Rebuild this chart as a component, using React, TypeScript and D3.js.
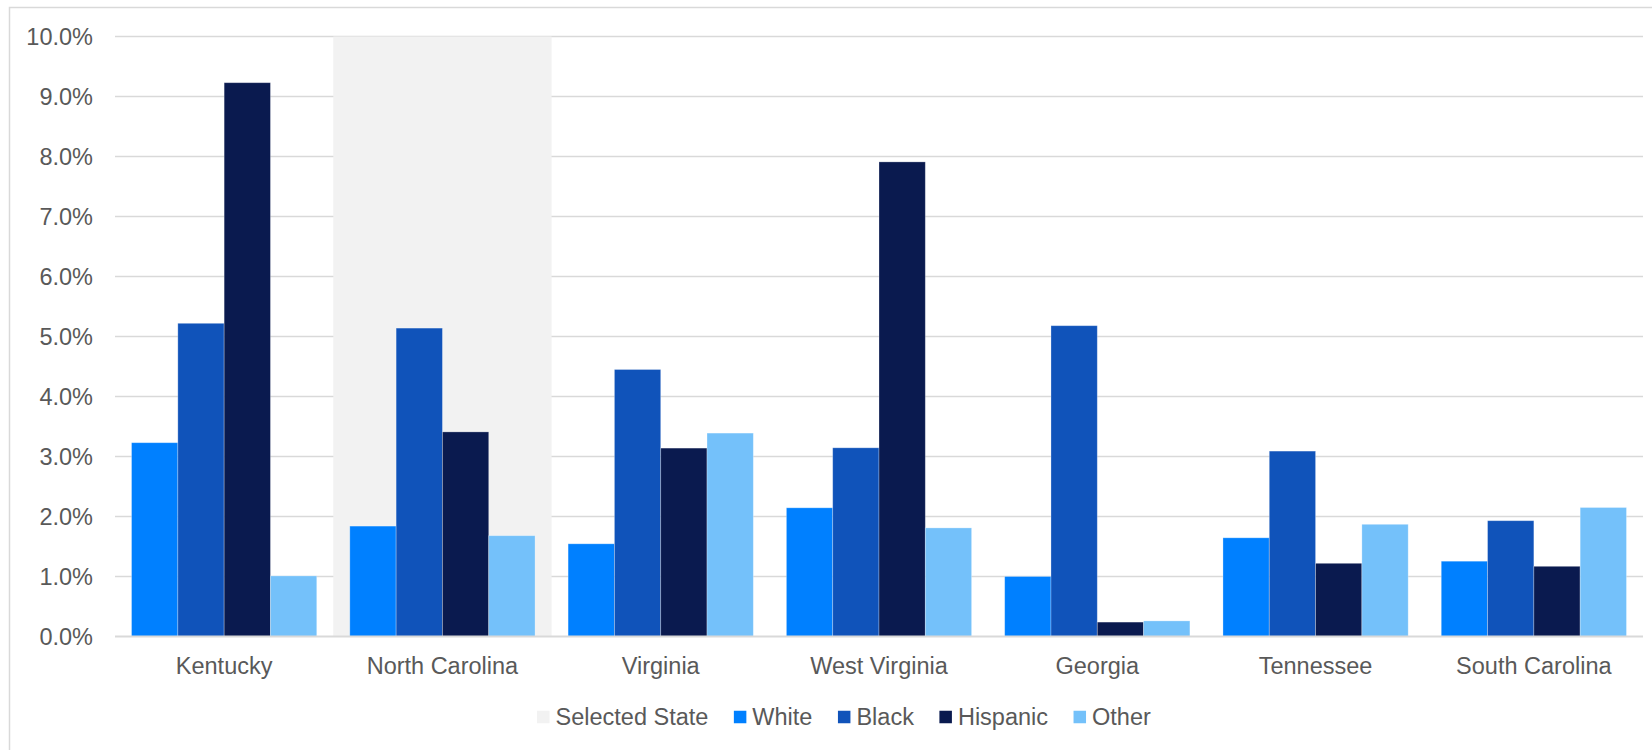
import React, { useEffect, useRef } from "react";
import * as d3 from "d3";

const states = ["Kentucky", "North Carolina", "Virginia", "West Virginia", "Georgia", "Tennessee", "South Carolina"];
const selectedState = "North Carolina";
const seriesKeys = ["White", "Black", "Hispanic", "Other"];
const white = [0.0323, 0.0184, 0.01545, 0.02145, 0.0100, 0.01645, 0.01255];
const black = [0.0522, 0.0514, 0.0445, 0.03145, 0.0518, 0.0309, 0.0193];
const hispanic = [0.0923, 0.0341, 0.0314, 0.0791, 0.0024, 0.0122, 0.0117];
const other = [0.0101, 0.0168, 0.0339, 0.0181, 0.0026, 0.0187, 0.0215];
const yTicks = [0, 0.01, 0.02, 0.03, 0.04, 0.05, 0.06, 0.07, 0.08, 0.09, 0.1];
const legendLabels = ["Selected State", "White", "Black", "Hispanic", "Other"];

const seriesValues = [white, black, hispanic, other];
const colors = ["#0080FF", "#1053BA", "#0A1A4F", "#74C1FA"];
const bandColor = "#F2F2F2";
const gridColor = "#D9D9D9";
const textColor = "#595959";
const FONT = "'Liberation Sans', Arial, sans-serif";

export default function App() {
  const ref = useRef<SVGSVGElement | null>(null);

  useEffect(() => {
    const svg = d3.select(ref.current);
    svg.selectAll("*").remove();

    const W = 1652, H = 750;
    const left = 115, right = 1643, top = 36.5, bottom = 636.5;

    // outer border
    svg.append("rect").attr("x", 9.5).attr("y", 7.5).attr("width", W + 50).attr("height", H + 50)
      .attr("fill", "#fff").attr("stroke", gridColor).attr("stroke-width", 1.5);

    const x0 = d3.scaleBand<string>().domain(states).range([left, right]).padding(0);
    const x1 = d3.scaleBand<string>().domain(seriesKeys).range([0, x0.bandwidth()]).paddingInner(0).paddingOuter(0.357);
    const y = d3.scaleLinear().domain([0, 0.1]).range([bottom, top]);

    // gridlines
    svg.append("g").selectAll("line").data(yTicks.filter(t => t > 0)).join("line")
      .attr("x1", left).attr("x2", right)
      .attr("y1", d => y(d)).attr("y2", d => y(d))
      .attr("stroke", gridColor).attr("stroke-width", 1.5);

    // selected band
    svg.append("rect")
      .attr("x", x0(selectedState)!).attr("width", x0.bandwidth())
      .attr("y", y(0.1)).attr("height", y(0) - y(0.1))
      .attr("fill", bandColor);

    // y tick labels
    svg.append("g").selectAll("text").data(yTicks).join("text")
      .attr("x", 93).attr("y", d => y(d)).attr("dy", "0.35em")
      .attr("text-anchor", "end").attr("font-family", FONT).attr("font-size", 23.5)
      .attr("fill", textColor).text(d => d3.format(".1%")(d));

    // bars
    const g = svg.append("g");
    states.forEach((s, i) => {
      const gg = g.append("g").attr("transform", `translate(${x0(s)},0)`);
      seriesKeys.forEach((k, j) => {
        const v = seriesValues[j][i];
        gg.append("rect")
          .attr("x", x1(k)!).attr("width", x1.bandwidth())
          .attr("y", y(v)).attr("height", y(0) - y(v))
          .attr("fill", colors[j])
          .attr("stroke", "rgba(255,255,255,0.35)").attr("stroke-width", 0.8);
      });
    });

    // baseline
    svg.append("line").attr("x1", left).attr("x2", right).attr("y1", y(0)).attr("y2", y(0))
      .attr("stroke", gridColor).attr("stroke-width", 2);

    // x labels
    svg.append("g").selectAll("text").data(states).join("text")
      .attr("x", d => x0(d)! + x0.bandwidth() / 2).attr("y", 674)
      .attr("text-anchor", "middle").attr("font-family", FONT).attr("font-size", 23.5)
      .attr("fill", textColor).text(d => d);

    // legend
    const legendColors = [bandColor, ...colors];
    const lg = svg.append("g");
    let cx = 537;
    const sq = 12.5;
    const ly = 717;
    legendLabels.forEach((lab, i) => {
      lg.append("rect").attr("x", cx).attr("y", ly - sq / 2).attr("width", sq).attr("height", sq)
        .attr("fill", legendColors[i]);
      const t = lg.append("text").attr("x", cx + sq + 6).attr("y", ly).attr("dy", "0.35em")
        .attr("font-family", FONT).attr("font-size", 23.5).attr("fill", textColor).text(lab);
      const w = (t.node() as SVGTextElement).getComputedTextLength();
      cx = cx + sq + 6 + w + 25.5;
    });
  }, []);

  return (
    <svg ref={ref} width={1652} height={750}
      style={{ position: "absolute", left: 0, top: 0, display: "block", background: "#fff" }} />
  );
}
